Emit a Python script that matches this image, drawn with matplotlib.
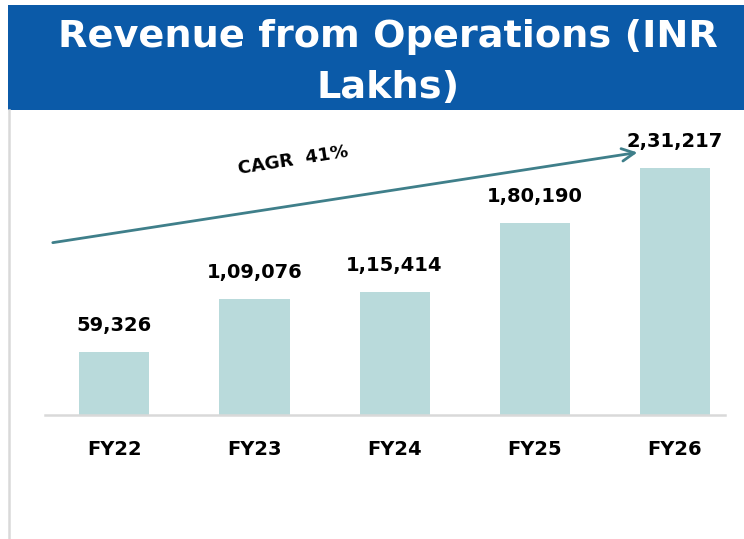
import matplotlib.pyplot as plt
from matplotlib.patches import Rectangle
from matplotlib.lines import Line2D

years = ["FY22", "FY23", "FY24", "FY25", "FY26"]
revenue = [59326, 109076, 115414, 180190, 231217]
labels = ["59,326", "1,09,076", "1,15,414", "1,80,190", "2,31,217"]

fig = plt.figure(figsize=(7.44, 5.39), dpi=100)
fig.patch.set_facecolor("white")

# title banner
fig.patches.append(Rectangle((0.0108, 0.796), 0.99, 0.195, transform=fig.transFigure,
                             facecolor="#0b5aa8", edgecolor="none", zorder=0))
fig.text(0.522, 0.932, "Revenue from Operations (INR", ha="center", va="center",
         color="white", fontsize=27.5, fontweight="bold")
fig.text(0.522, 0.837, "Lakhs)", ha="center", va="center",
         color="white", fontsize=27.5, fontweight="bold")
fig.lines.append(Line2D([0.0121, 0.0121], [0, 0.796], transform=fig.transFigure,
                        color="#d9d9d9", linewidth=1.8))

ax = fig.add_axes([0.0605, 0.230, 0.914, 0.5566])
x = range(len(years))
ax.bar(x, revenue, width=0.5, color="#b9dadb")
for i, v in enumerate(revenue):
    ax.annotate(labels[i], (i, v), xytext=(0, 12), textcoords="offset points",
                ha="center", va="bottom", fontsize=14, fontweight="bold")

ax.set_xlim(-0.496, 4.36)
ax.set_ylim(0, 280900)
ax.set_xticks(list(x))
ax.set_xticklabels(years, fontsize=14, fontweight="bold")
ax.tick_params(axis="x", length=0, pad=18)
ax.set_yticks([])
for s in ["top", "right", "left"]:
    ax.spines[s].set_visible(False)
ax.spines["bottom"].set_color("#d9d9d9")
ax.spines["bottom"].set_linewidth(1.8)

# CAGR arrow
ax.annotate("", xy=(3.754, 246250), xytext=(-0.46, 161000),
            arrowprops=dict(arrowstyle="->,head_length=0.9,head_width=0.45",
                            color="#3f7f8a", linewidth=2))
ax.text(1.275, 238800, "CAGR  41%", ha="center", va="center", rotation=9,
        fontsize=13, fontweight="bold")

fig.savefig("out.png", dpi=100)
